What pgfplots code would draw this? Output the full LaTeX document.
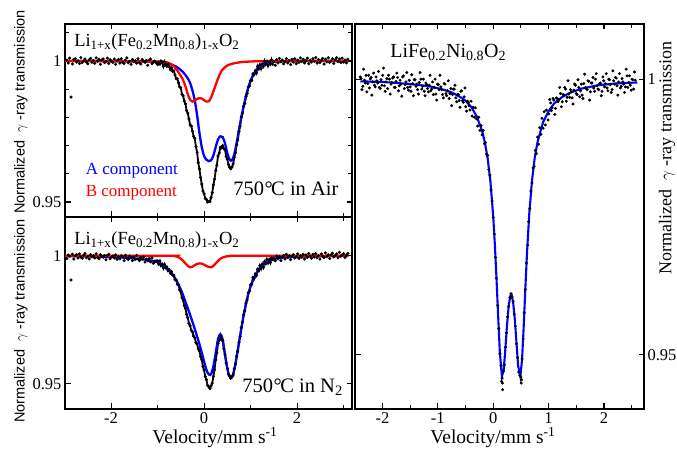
\documentclass[border=0pt]{standalone}
\usepackage{fontspec}
\setmainfont{Liberation Serif}
\newfontfamily\arialfont{Liberation Sans}
\usepackage{pgfplots}
\pgfplotsset{compat=1.18}
\usepackage{pgfplotstable}
\newcommand{\fs}[1]{\fontsize{#1}{#1}\selectfont}
\newcommand{\sub}[1]{\textsubscript{#1}}

% ---------------- 750 C in Air ----------------
\pgfplotstableread{
x y
-2.95 1.0003
-2.92 0.9993
-2.89 1.0010
-2.86 0.9872
-2.83 0.9989
-2.80 1.0005
-2.77 1.0008
-2.74 0.9996
-2.71 1.0001
-2.68 0.9991
-2.65 1.0012
-2.62 0.9994
-2.59 1.0000
-2.56 1.0007
-2.53 0.9997
-2.50 0.9990
-2.47 1.0004
-2.44 1.0009
-2.41 0.9995
-2.38 1.0002
-2.35 0.9992
-2.32 1.0011
-2.29 0.9999
-2.26 1.0006
-2.23 0.9988
-2.20 1.0003
-2.17 1.0007
-2.14 0.9994
-2.11 0.9998
-2.08 1.0010
-2.05 0.9991
-2.02 1.0005
-1.99 0.9999
-1.96 0.9995
-1.93 1.0007
-1.90 0.9988
-1.87 1.0001
-1.84 1.0005
-1.81 0.9992
-1.78 1.0008
-1.75 0.9996
-1.72 0.9991
-1.69 1.0003
-1.66 1.0011
-1.63 0.9994
-1.60 0.9999
-1.57 0.9988
-1.54 1.0005
-1.51 0.9997
-1.48 1.0001
-1.45 0.9992
-1.42 1.0008
-1.39 0.9994
-1.36 0.9989
-1.33 1.0005
-1.30 0.9999
-1.27 0.9995
-1.24 1.0002
-1.21 0.9985
-1.18 1.0003
-1.15 1.0007
-1.12 0.9990
-1.09 0.9996
-1.06 1.0000
-1.03 0.9993
1.50 0.9998
1.53 0.9985
1.56 1.0005
1.59 0.9993
1.62 1.0009
1.65 0.9997
1.68 1.0003
1.71 0.9990
1.74 0.9998
1.77 1.0008
1.80 0.9993
1.83 1.0002
1.86 0.9987
1.89 1.0006
1.92 0.9996
1.95 1.0008
1.98 0.9990
2.01 1.0003
2.04 0.9995
2.07 1.0011
2.10 0.9998
2.13 1.0006
2.16 0.9993
2.19 1.0001
2.22 1.0010
2.25 0.9990
2.28 1.0003
2.31 0.9996
2.34 1.0008
2.37 0.9999
2.40 1.0012
2.43 0.9992
2.46 1.0005
2.49 0.9994
2.52 1.0002
2.55 1.0009
2.58 0.9989
2.61 1.0006
2.64 0.9997
2.67 1.0011
2.70 0.9995
2.73 1.0000
2.76 1.0008
2.79 0.9991
2.82 1.0004
2.85 1.0012
2.88 0.9998
2.91 1.0007
2.94 0.9994
2.97 1.0010
3.00 0.9996
3.03 1.0003
3.06 0.9993
3.09 1.0006
}\airbase

\pgfplotstableread{
x y
-1.000 0.9987
-0.975 0.9995
-0.950 0.9989
-0.925 1.0000
-0.900 0.9995
-0.875 0.9981
-0.850 0.9997
-0.825 0.9987
-0.800 0.9981
-0.775 0.9989
-0.750 0.9980
-0.725 0.9969
-0.700 0.9975
-0.675 0.9963
-0.650 0.9965
-0.625 0.9950
-0.600 0.9937
-0.575 0.9937
-0.550 0.9923
-0.525 0.9908
-0.500 0.9905
-0.475 0.9882
-0.450 0.9876
-0.425 0.9858
-0.400 0.9848
-0.375 0.9824
-0.350 0.9815
-0.325 0.9794
-0.300 0.9773
-0.275 0.9769
-0.250 0.9751
-0.225 0.9733
-0.200 0.9726
-0.175 0.9696
-0.150 0.9677
-0.125 0.9639
-0.100 0.9617
-0.075 0.9587
-0.050 0.9564
-0.025 0.9539
0.000 0.9529
0.025 0.9513
0.050 0.9509
0.075 0.9500
0.100 0.9501
0.125 0.9502
0.150 0.9515
0.175 0.9533
0.200 0.9561
0.225 0.9581
0.250 0.9612
0.275 0.9631
0.300 0.9663
0.325 0.9674
0.350 0.9694
0.375 0.9692
0.400 0.9700
0.425 0.9689
0.450 0.9685
0.475 0.9662
0.500 0.9651
0.525 0.9633
0.550 0.9623
0.575 0.9618
0.600 0.9624
0.625 0.9635
0.650 0.9658
0.675 0.9675
0.700 0.9703
0.725 0.9720
0.750 0.9750
0.775 0.9769
0.800 0.9801
0.825 0.9814
0.850 0.9839
0.875 0.9849
0.900 0.9874
0.925 0.9884
0.950 0.9908
0.975 0.9911
1.000 0.9931
1.025 0.9931
1.050 0.9954
1.075 0.9951
1.100 0.9965
1.125 0.9957
1.150 0.9981
1.175 0.9972
1.200 0.9986
1.225 0.9973
1.250 0.9989
1.275 0.9981
1.300 1.0000
1.325 0.9988
1.350 0.9998
1.375 0.9983
1.400 0.9997
1.425 0.9989
1.450 1.0004
1.475 0.9988
}\aircore

% ---------------- 750 C in N2 ----------------
\pgfplotstableread{
x y
-2.95 0.9989
-2.92 1.0003
-2.89 0.9998
-2.86 0.9905
-2.83 1.0006
-2.80 0.9987
-2.77 1.0000
-2.74 1.0004
-2.71 0.9991
-2.68 1.0007
-2.65 0.9995
-2.62 0.9990
-2.59 1.0001
-2.56 1.0009
-2.53 0.9992
-2.50 0.9998
-2.47 0.9987
-2.44 1.0004
-2.41 0.9996
-2.38 1.0000
-2.35 0.9991
-2.32 1.0007
-2.29 0.9993
-2.26 0.9988
-2.23 1.0004
-2.20 0.9998
-2.17 0.9994
-2.14 1.0001
-2.11 0.9984
-2.08 1.0001
-2.05 1.0006
-2.02 0.9988
-1.99 0.9995
-1.96 0.9999
-1.93 0.9991
-1.90 1.0003
-1.87 0.9986
-1.84 0.9995
-1.81 0.9988
-1.78 1.0000
-1.75 0.9996
-1.72 0.9981
-1.69 1.0002
-1.66 0.9991
-1.63 0.9985
-1.60 0.9999
-1.57 0.9993
-1.54 0.9981
-1.51 0.9995
-1.48 0.9985
-1.45 1.0001
-1.42 0.9987
-1.39 0.9981
-1.36 0.9993
-1.33 0.9986
-1.30 0.9995
-1.27 0.9975
-1.24 0.9987
-1.21 0.9980
-1.18 0.9989
-1.15 0.9976
-1.12 0.9991
-1.09 0.9970
-1.06 0.9978
-1.03 0.9980
1.50 0.9991
1.53 0.9980
1.56 0.9999
1.59 0.9988
1.62 0.9997
1.65 0.9981
1.68 0.9994
1.71 1.0001
1.74 0.9987
1.77 1.0005
1.80 0.9993
1.83 1.0000
1.86 0.9985
1.89 0.9998
1.92 1.0004
1.95 0.9991
1.98 0.9996
2.01 1.0007
2.04 0.9989
2.07 1.0000
2.10 0.9994
2.13 1.0005
2.16 0.9987
2.19 1.0003
2.22 0.9993
2.25 1.0009
2.28 0.9998
2.31 0.9990
2.34 1.0005
2.37 0.9995
2.40 1.0008
2.43 0.9992
2.46 1.0001
2.49 0.9987
2.52 1.0007
2.55 0.9998
2.58 0.9993
2.61 1.0011
2.64 0.9996
2.67 1.0004
2.70 0.9989
2.73 1.0003
2.76 1.0010
2.79 0.9995
2.82 1.0001
2.85 1.0007
2.88 0.9992
2.91 1.0013
2.94 0.9998
2.97 1.0004
3.00 1.0008
3.03 0.9993
3.06 1.0002
3.09 1.0009
}\nbase

\pgfplotstableread{
x y
-1.000 0.9980
-0.975 0.9968
-0.950 0.9979
-0.925 0.9961
-0.900 0.9967
-0.875 0.9952
-0.850 0.9966
-0.825 0.9952
-0.800 0.9956
-0.775 0.9941
-0.750 0.9945
-0.725 0.9932
-0.700 0.9938
-0.675 0.9924
-0.650 0.9923
-0.625 0.9906
-0.600 0.9905
-0.575 0.9888
-0.550 0.9887
-0.525 0.9867
-0.500 0.9859
-0.475 0.9836
-0.450 0.9827
-0.425 0.9805
-0.400 0.9794
-0.375 0.9771
-0.350 0.9758
-0.325 0.9736
-0.300 0.9726
-0.275 0.9709
-0.250 0.9703
-0.225 0.9686
-0.200 0.9680
-0.175 0.9661
-0.150 0.9655
-0.125 0.9636
-0.100 0.9629
-0.075 0.9606
-0.050 0.9594
-0.025 0.9568
0.000 0.9554
0.025 0.9529
0.050 0.9516
0.075 0.9494
0.100 0.9489
0.125 0.9482
0.150 0.9492
0.175 0.9503
0.200 0.9529
0.225 0.9555
0.250 0.9594
0.275 0.9621
0.300 0.9657
0.325 0.9670
0.350 0.9685
0.375 0.9676
0.400 0.9668
0.425 0.9637
0.450 0.9614
0.475 0.9582
0.500 0.9561
0.525 0.9537
0.550 0.9530
0.575 0.9522
0.600 0.9528
0.625 0.9535
0.650 0.9559
0.675 0.9577
0.700 0.9608
0.725 0.9628
0.750 0.9662
0.775 0.9685
0.800 0.9719
0.825 0.9740
0.850 0.9770
0.875 0.9785
0.900 0.9815
0.925 0.9828
0.950 0.9856
0.975 0.9862
1.000 0.9887
1.025 0.9889
1.050 0.9915
1.075 0.9910
1.100 0.9929
1.125 0.9922
1.150 0.9947
1.175 0.9941
1.200 0.9961
1.225 0.9949
1.250 0.9967
1.275 0.9955
1.300 0.9977
1.325 0.9969
1.350 0.9986
1.375 0.9972
1.400 0.9985
1.425 0.9973
1.450 0.9991
1.475 0.9984
}\ncore

% ---------------- LiFe0.2Ni0.8O2 ----------------
\pgfplotstableread{
x y
-2.40 1.0004
-2.37 0.9981
-2.34 1.0018
-2.31 0.9993
-2.28 0.9977
-2.25 1.0007
-2.22 1.0000
-2.19 0.9971
-2.16 1.0011
-2.13 0.9986
-2.10 0.9997
-2.07 1.0014
-2.04 0.9983
-2.01 0.9989
-1.98 1.0020
-1.95 0.9978
-1.92 1.0001
-1.89 1.0007
-1.86 0.9973
-1.83 0.9994
-1.80 1.0004
-1.77 0.9985
-1.74 1.0011
-1.71 0.9979
-1.68 0.9998
-1.65 0.9969
-1.62 1.0006
-1.59 0.9990
-1.56 1.0012
-1.53 0.9980
-1.50 0.9986
-1.47 1.0008
-1.44 0.9970
-1.41 0.9999
-1.38 0.9991
-1.35 0.9973
-1.32 1.0012
-1.29 0.9982
-1.26 1.0000
-1.23 0.9970
-1.20 0.9990
-1.17 0.9977
-1.14 1.0007
-1.11 0.9982
-1.08 0.9972
-1.05 1.0000
-1.02 0.9962
-0.99 0.9990
-0.96 1.0007
-0.93 0.9981
-0.90 0.9966
-0.87 0.9991
-0.84 0.9970
-0.81 0.9997
-0.78 0.9974
-0.75 0.9952
-0.72 0.9982
-0.69 0.9989
-0.66 0.9959
-0.63 0.9972
-0.60 0.9949
-0.57 0.9979
-0.54 0.9958
-0.51 0.9984
-0.48 0.9942
-0.45 0.9958
-0.42 0.9944
-2.385 1.0001
-2.355 0.9987
-2.325 0.9998
-2.295 1.0007
-2.265 0.9992
-2.235 0.9984
-2.205 1.0003
-2.175 0.9995
-2.145 0.9989
-2.115 1.0004
-2.085 0.9993
-2.055 0.9985
-2.025 0.9999
-1.995 1.0007
-1.965 0.9988
-1.935 0.9995
-1.905 0.9983
-1.875 1.0000
-1.845 0.9991
-1.815 1.0002
-1.785 0.9985
-1.755 0.9996
-1.725 1.0003
-1.695 0.9988
-1.665 0.9991
-1.635 1.0004
-1.605 0.9983
-1.575 0.9995
-1.545 0.9985
-1.515 0.9998
-1.485 0.9978
-1.455 0.9992
-1.425 0.9999
-1.395 0.9987
-1.365 0.9981
-1.335 0.9994
-1.305 1.0000
-1.275 0.9987
-1.245 0.9978
-1.215 0.9993
-1.185 0.9983
-1.155 0.9989
-1.125 0.9979
-1.095 0.9995
-1.065 0.9985
-1.035 0.9973
-1.005 0.9991
-0.975 0.9981
-0.945 0.9986
-0.915 0.9972
-0.885 0.9992
-0.855 0.9974
-0.825 0.9979
-0.795 0.9965
-0.765 0.9983
-0.735 0.9972
-0.705 0.9982
-0.675 0.9966
-0.645 0.9972
-0.615 0.9961
-0.585 0.9978
-0.555 0.9961
-0.525 0.9968
-0.495 0.9950
-0.465 0.9960
-0.435 0.9952
-0.40 0.9960
-0.38 0.9933
-0.36 0.9949
-0.34 0.9931
-0.32 0.9948
-0.30 0.9928
-0.28 0.9915
-0.26 0.9931
-0.24 0.9907
-0.22 0.9916
-0.20 0.9899
-0.18 0.9907
-0.16 0.9883
-0.14 0.9885
-0.12 0.9864
-0.10 0.9862
-0.08 0.9836
-0.06 0.9826
-0.04 0.9799
-0.02 0.9779
0.00 0.9749
0.02 0.9719
0.04 0.9677
0.06 0.9639
0.08 0.9590
0.10 0.9548
0.12 0.9502
0.14 0.9481
0.15 0.9452
0.16 0.9458
0.165 0.9449
0.17 0.9437
0.18 0.9470
0.20 0.9482
0.22 0.9514
0.24 0.9540
0.26 0.9569
0.28 0.9588
0.30 0.9604
0.32 0.9611
0.34 0.9605
0.36 0.9597
0.38 0.9574
0.40 0.9552
0.42 0.9520
0.44 0.9495
0.46 0.9469
0.48 0.9463
0.50 0.9460
0.505 0.9449
0.51 0.9455
0.52 0.9493
0.54 0.9529
0.56 0.9577
0.58 0.9619
0.60 0.9667
0.62 0.9699
0.64 0.9742
0.66 0.9765
0.68 0.9797
0.70 0.9812
0.72 0.9839
0.74 0.9842
0.76 0.9871
0.78 0.9865
0.80 0.9895
0.82 0.9882
0.84 0.9912
0.86 0.9900
0.88 0.9929
0.90 0.9911
0.92 0.9941
0.94 0.9917
0.96 0.9944
0.99 0.9926
1.02 0.9963
1.05 0.9943
1.08 0.9965
1.11 0.9936
1.14 0.9966
1.17 0.9959
1.20 0.9985
1.23 0.9950
1.26 0.9972
1.29 0.9985
1.32 0.9960
1.35 0.9997
1.38 0.9967
1.41 0.9977
1.44 0.9955
1.47 0.9991
1.50 0.9974
1.53 0.9999
1.56 0.9968
1.59 0.9991
1.62 0.9965
1.65 1.0009
1.68 0.9983
1.71 0.9997
1.74 0.9962
1.77 0.9993
1.80 1.0003
1.83 0.9978
1.86 1.0010
1.89 0.9982
1.92 0.9992
1.95 0.9970
1.98 1.0004
2.01 0.9986
2.04 1.0010
2.07 0.9979
2.10 0.9999
2.13 0.9976
2.16 1.0015
2.19 0.9991
2.22 1.0002
2.25 0.9971
2.28 1.0010
2.31 0.9987
2.34 0.9995
2.37 0.9976
2.40 1.0018
2.43 0.9985
2.46 1.0006
2.49 0.9980
2.52 0.9999
2.55 1.0013
1.005 0.9937
1.035 0.9957
1.065 0.9948
1.095 0.9962
1.125 0.9947
1.155 0.9965
1.185 0.9963
1.215 0.9974
1.245 0.9959
1.275 0.9971
1.305 0.9982
1.335 0.9967
1.365 0.9973
1.395 0.9981
1.425 0.9966
1.455 0.9980
1.485 0.9989
1.515 0.9972
1.545 0.9985
1.575 0.9979
1.605 0.9971
1.635 0.9992
1.665 0.9985
1.695 0.9981
1.725 0.9996
1.755 0.9977
1.785 0.9993
1.815 0.9984
1.845 1.0000
1.875 0.9988
1.905 0.9981
1.935 0.9993
1.965 0.9978
1.995 0.9997
2.025 0.9992
2.055 0.9984
2.085 1.0000
2.115 0.9990
2.145 0.9981
2.175 0.9997
2.205 1.0003
2.235 0.9988
2.265 0.9995
2.295 0.9984
2.325 1.0001
2.355 0.9991
2.385 0.9986
2.415 1.0006
2.445 0.9994
2.475 0.9989
2.505 1.0000
2.535 0.9982
2.565 0.9998
}\rdata

\pgfplotsset{
  myax/.style={
    scale only axis,
    axis line style={line width=1.8pt},
    every tick/.style={black, line width=1.1pt},
    major tick length=5.5pt,
    minor tick length=4pt,
    tick align=inside,
    ticklabel style={font=\rmfamily\fs{16.5}},
    clip=true,
  }
}

\begin{document}
\begin{tikzpicture}
\useasboundingbox (0,0) rectangle (677pt,449pt);

% ===== top-left: Air =====
\begin{axis}[myax, at={(65pt,232pt)}, anchor=south west, width=287pt, height=193pt,
  xmin=-2.99, xmax=3.18, ymin=0.9447, ymax=1.0131,
  xtick={-2,0,2}, xticklabels={}, minor xtick={-1,1,3},
  ytick={0.95,1}, yticklabels={\textrm{0.95},\textrm{1}}, minor ytick={0.96,0.97,0.98,0.99,1.01}]
\addplot[only marks, mark=*, mark size=1.35pt, black] table {\airbase};
\addplot[black, line width=1.8pt] table {\aircore};
\addplot[only marks, mark=*, mark size=1.35pt, black] table {\aircore};
\addplot[blue, line width=2.3pt, smooth] coordinates {
(-3.0,1.0000) (-1.5,0.9999) (-1.2,0.9998) (-1.0,0.9997) (-0.9,0.9995) (-0.8,0.9991)
(-0.7,0.9987) (-0.6,0.9980) (-0.5,0.9968) (-0.45,0.9960) (-0.4,0.9950) (-0.35,0.9938)
(-0.3,0.9922) (-0.25,0.9895) (-0.2,0.9860) (-0.15,0.9808) (-0.1,0.9745) (-0.05,0.9695)
(0,0.9663) (0.05,0.9650) (0.1,0.9645) (0.15,0.9648) (0.2,0.9665) (0.25,0.9695)
(0.3,0.9722) (0.35,0.9733) (0.4,0.9730) (0.45,0.9708) (0.5,0.9673) (0.55,0.9650)
(0.6,0.9648) (0.65,0.9670) (0.7,0.9710) (0.75,0.9755) (0.8,0.9800) (0.85,0.9840)
(0.9,0.9875) (0.95,0.9905) (1.0,0.9930) (1.05,0.9948) (1.1,0.9962) (1.15,0.9972)
(1.2,0.9980) (1.3,0.9990) (1.45,0.9996) (1.7,0.9999) (2.0,1.0000) (3.1,1.0000)};
\addplot[red, line width=2.3pt, smooth] coordinates {
(-3.0,1.0000) (-1.0,0.9998) (-0.9,0.9997) (-0.8,0.9995) (-0.75,0.9992) (-0.7,0.9988)
(-0.65,0.9981) (-0.6,0.9971) (-0.55,0.9960) (-0.5,0.9947) (-0.45,0.9932) (-0.4,0.9910)
(-0.35,0.9882) (-0.3,0.9862) (-0.25,0.9856) (-0.2,0.9860) (-0.15,0.9866) (-0.1,0.9868)
(-0.05,0.9867) (0,0.9861) (0.05,0.9856) (0.1,0.9857) (0.15,0.9870) (0.2,0.9892)
(0.25,0.9915) (0.3,0.9938) (0.35,0.9957) (0.4,0.9970) (0.45,0.9978) (0.5,0.9984)
(0.6,0.9990) (0.8,0.9996) (1.0,0.9998) (1.3,0.9999) (3.1,1.0000)};
\node[anchor=west, font=\fs{18.5}] at (rel axis cs:0.02,0.905)
  {Li\sub{1+x}(Fe\sub{0.2}Mn\sub{0.8})\sub{1-x}O\sub{2}};
\node[anchor=west, font=\fs{17}, text=blue] at (rel axis cs:0.06,0.238) {A component};
\node[anchor=west, font=\fs{17}, text=red] at (rel axis cs:0.06,0.127) {B component};
\node[anchor=east, font=\fs{20.5}] at (rel axis cs:0.965,0.145) {750\kern0.5pt°\kern-1.5ptC in Air};
\end{axis}

% ===== bottom-left: N2 =====
\begin{axis}[myax, at={(65pt,40pt)}, anchor=south west, width=287pt, height=192pt,
  xmin=-2.99, xmax=3.18, ymin=0.9402, ymax=1.0151,
  xtick={-2,0,2}, xticklabels={\textrm{-2},\textrm{0},\textrm{2}}, minor xtick={-1,1,3},
  ytick={0.95,1}, yticklabels={\textrm{0.95},\textrm{1}}]
\addplot[only marks, mark=*, mark size=1.35pt, black] table {\nbase};
\addplot[black, line width=1.8pt] table {\ncore};
\addplot[only marks, mark=*, mark size=1.35pt, black] table {\ncore};
\addplot[blue, line width=2.3pt, smooth] coordinates {
(-3.0,0.9998) (-2.5,0.9997) (-2.0,0.9995) (-1.6,0.9991) (-1.4,0.9988) (-1.2,0.9983)
(-1.1,0.9979) (-1.0,0.9974) (-0.9,0.9965) (-0.8,0.9951) (-0.7,0.9932) (-0.6,0.9905)
(-0.5,0.9868) (-0.45,0.9845) (-0.4,0.9820) (-0.35,0.9795) (-0.3,0.9769) (-0.25,0.9742)
(-0.2,0.9714) (-0.15,0.9685) (-0.1,0.9655) (-0.05,0.9622) (0,0.9587) (0.05,0.9555)
(0.1,0.9537) (0.15,0.9538) (0.2,0.9568) (0.25,0.9620) (0.3,0.9675) (0.35,0.9694)
(0.4,0.9673) (0.45,0.9615) (0.5,0.9560) (0.55,0.9528) (0.6,0.9526) (0.65,0.9555)
(0.7,0.9605) (0.75,0.9660) (0.8,0.9715) (0.85,0.9767) (0.9,0.9811) (0.95,0.9850)
(1.0,0.9880) (1.05,0.9903) (1.1,0.9922) (1.15,0.9938) (1.2,0.9951) (1.25,0.9961)
(1.3,0.9969) (1.35,0.9975) (1.4,0.9980) (1.5,0.9987) (1.6,0.9991) (1.8,0.9994)
(2.0,0.9996) (2.5,0.9998) (3.1,0.9999)};
\addplot[red, line width=2.3pt, smooth] coordinates {
(-3.0,1.0000) (-0.7,1.0000) (-0.65,0.9999) (-0.6,0.9997) (-0.55,0.9994) (-0.5,0.9988)
(-0.45,0.9980) (-0.4,0.9970) (-0.35,0.9960) (-0.3,0.9955) (-0.25,0.9957) (-0.2,0.9963)
(-0.15,0.9968) (-0.1,0.9970) (-0.05,0.9969) (0,0.9965) (0.05,0.9960) (0.1,0.9956)
(0.15,0.9955) (0.2,0.9960) (0.25,0.9970) (0.3,0.9980) (0.35,0.9988) (0.4,0.9993)
(0.45,0.9996) (0.5,0.9998) (0.6,0.9999) (0.7,1.0000) (3.1,1.0000)};
\node[anchor=west, font=\fs{18.5}] at (rel axis cs:0.02,0.88)
  {Li\sub{1+x}(Fe\sub{0.2}Mn\sub{0.8})\sub{1-x}O\sub{2}};
\node[anchor=east, font=\fs{20.5}] at (rel axis cs:0.98,0.112) {750\kern0.5pt°\kern-1.5ptC in N\sub{2}};
\end{axis}

% ===== right: LiFe0.2Ni0.8O2 =====
\begin{axis}[myax, at={(355pt,40pt)}, anchor=south west, width=289pt, height=385pt,
  xmin=-2.495, xmax=2.722, ymin=0.9402, ymax=1.0100,
  xtick={-2,-1,0,1,2}, xticklabels={\textrm{-2},\textrm{-1},\textrm{0},\textrm{1},\textrm{2}},
  minor xtick={-1.5,-0.5,0.5,1.5,2.5},
  ytick={0.95,1}, yticklabels={\textrm{0.95},\textrm{1}}, yticklabel pos=right]
\addplot[blue, line width=2.1pt] coordinates {
(-2.40,0.9996) (-2.0,0.9995) (-1.6,0.9992) (-1.3,0.9989) (-1.1,0.9986) (-0.9,0.9981)
(-0.75,0.9976) (-0.6,0.9968) (-0.5,0.9961) (-0.4,0.9950) (-0.3,0.9933) (-0.2,0.9906)
(-0.15,0.9885) (-0.1,0.9856) (-0.05,0.9814) (0,0.9751) (0.03,0.9699) (0.06,0.9637)
(0.09,0.9568) (0.12,0.9504) (0.157,0.9461) (0.19,0.9473) (0.22,0.9512) (0.25,0.9555)
(0.28,0.9590) (0.31,0.9607) (0.335,0.9608) (0.36,0.9595) (0.39,0.9564) (0.42,0.9522)
(0.45,0.9480) (0.49,0.9461) (0.52,0.9491) (0.55,0.9551) (0.58,0.9621) (0.61,0.9685)
(0.65,0.9755) (0.7,0.9816) (0.75,0.9858) (0.8,0.9886) (0.9,0.9922) (1.0,0.9942)
(1.1,0.9956) (1.25,0.9968) (1.4,0.9976) (1.6,0.9983) (1.9,0.9989) (2.2,0.9992)
(2.6,0.9994)};
\addplot[only marks, mark=*, mark size=1.3pt, black] table {\rdata};
\node[anchor=west, font=\fs{20}] at (rel axis cs:0.11,0.927)
  {LiFe\sub{0.2}Ni\sub{0.8}O\sub{2}};
\end{axis}

% ===== axis labels =====
\node[rotate=90, font=\arialfont\fs{14.5}] at (21pt,337pt) {Normalized \ $\gamma$ -ray transmission};
\node[rotate=90, font=\arialfont\fs{14.5}] at (21pt,128pt) {Normalized \ $\gamma$ -ray transmission};
\node[rotate=90, font=\fs{18}] at (667pt,291pt) {Normalized \ $\gamma$ -ray transmission};
\node[anchor=base, font=\fs{19.5}] at (215pt,5pt) {Velocity/mm s\textsuperscript{-1}};
\node[anchor=base, font=\fs{19.5}] at (493pt,5pt) {Velocity/mm s\textsuperscript{-1}};
\end{tikzpicture}
\end{document}
